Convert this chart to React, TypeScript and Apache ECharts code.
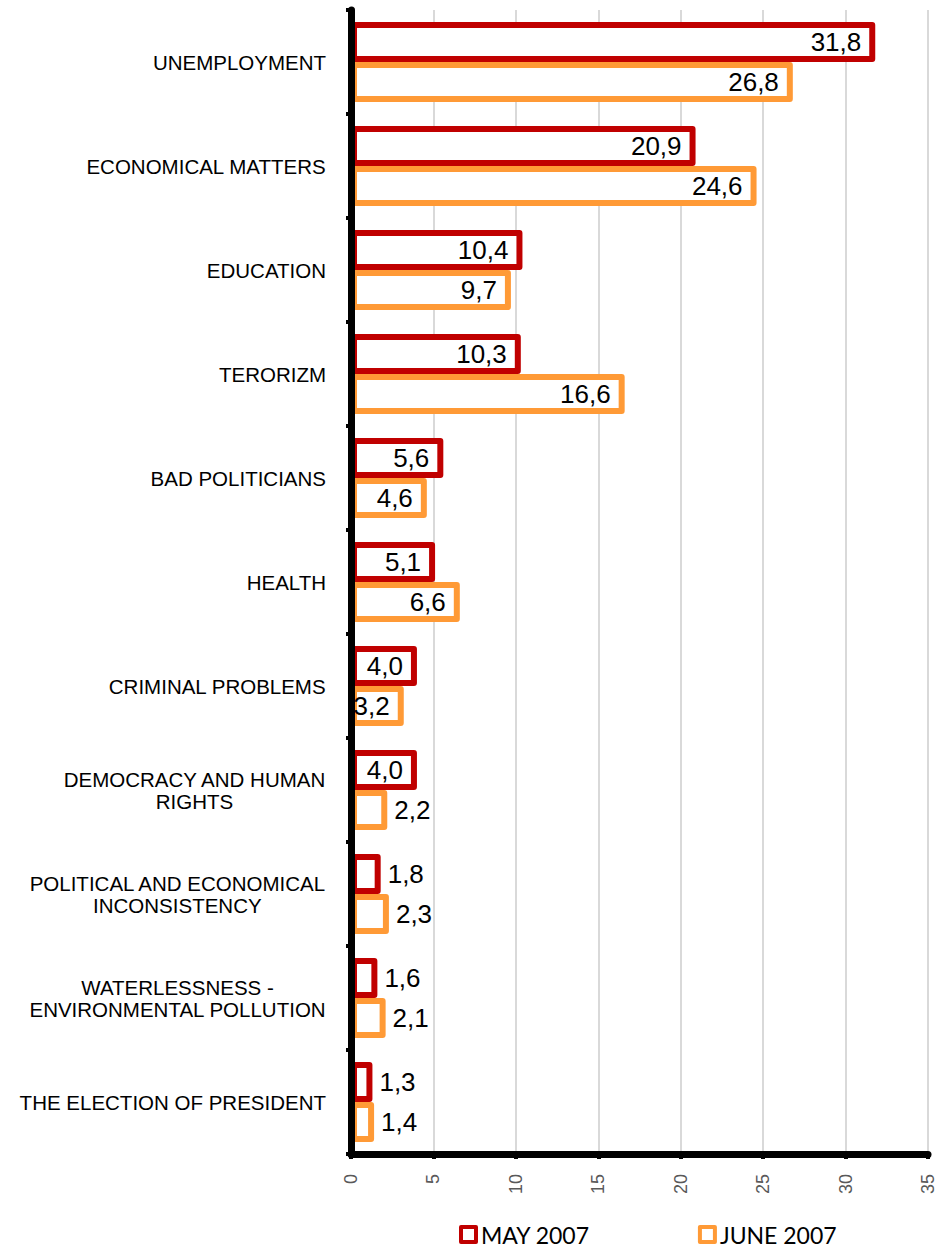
import React, { useEffect, useRef } from "react";
import * as echarts from "echarts";

const categories = [
  "UNEMPLOYMENT",
  "ECONOMICAL MATTERS",
  "EDUCATION",
  "TERORIZM",
  "BAD POLITICIANS",
  "HEALTH",
  "CRIMINAL PROBLEMS",
  "DEMOCRACY AND HUMAN\nRIGHTS",
  "POLITICAL AND ECONOMICAL\nINCONSISTENCY",
  "WATERLESSNESS -\nENVIRONMENTAL POLLUTION",
  "THE ELECTION OF PRESIDENT",
];
const may2007 = [31.8, 20.9, 10.4, 10.3, 5.6, 5.1, 4.0, 4.0, 1.8, 1.6, 1.3];
const june2007 = [26.8, 24.6, 9.7, 16.6, 4.6, 6.6, 3.2, 2.2, 2.3, 2.1, 1.4];
const seriesNames = ["MAY 2007", "JUNE 2007"];
const xTicks = { min: 0, max: 35, interval: 5 };

const fmt = (v: number) => v.toFixed(1).replace(".", ",");

const labelFor = (v: number) =>
  v >= 3
    ? { position: "insideRight", distance: 14 }
    : { position: "right", distance: 7 };

export default function App() {
  const ref = useRef<HTMLDivElement>(null);
  useEffect(() => {
    if (!ref.current) return;
    const chart = echarts.init(ref.current, undefined, { renderer: "svg" });
    const mkSeries = (name: string, values: number[], color: string, z: number) => ({
      name,
      type: "bar",
      z,
      barWidth: 40,
      barGap: "0%",
      itemStyle: {
        color: "#ffffff",
        borderColor: color,
        borderWidth: 6,
        borderJoin: "round",
      },
      label: {
        show: true,
        color: "#000",
        fontSize: 26,
        fontFamily: "Liberation Sans, Arial, sans-serif",
        formatter: (p: any) => fmt(p.value),
      },
      data: values.map((v) => ({ value: v, label: labelFor(v) })),
    });
    chart.setOption({
      animation: false,
      backgroundColor: "#ffffff",
      grid: { left: 351, right: 14, top: 10, bottom: 96, containLabel: false },
      legend: {
        data: seriesNames,
        left: 459,
        top: 1223,
        padding: 0,
        itemWidth: 15,
        itemHeight: 15,
        itemGap: 108,
        icon: "rect",
        itemStyle: { borderWidth: 4 },
        textStyle: { fontFamily: "Lato", fontSize: 23, color: "#000" },
      },
      xAxis: {
        type: "value",
        min: xTicks.min,
        max: xTicks.max,
        interval: xTicks.interval,
        axisLine: { show: true, lineStyle: { color: "#000", width: 7 } },
        axisTick: { show: true, length: 5, lineStyle: { color: "#000", width: 4 } },
        axisLabel: {
          rotate: 90,
          margin: 20,
          color: "#595959",
          fontSize: 18,
          fontFamily: "Liberation Sans, Arial, sans-serif",
        },
        splitLine: { show: true, lineStyle: { color: "#D9D9D9", width: 2 } },
      },
      yAxis: {
        type: "category",
        inverse: true,
        data: categories,
        z: 5,
        axisLine: { show: true, lineStyle: { color: "#000", width: 7 } },
        axisTick: { show: true, length: 5, lineStyle: { color: "#000", width: 4 } },
        axisLabel: {
          margin: 25,
          formatter: (v: string) =>
            v
              .split("\n")
              .map((l) => `{a|${l}}`)
              .join("\n"),
          rich: {
            a: {
              align: "center",
              fontSize: 20.5,
              lineHeight: 22,
              color: "#000",
              fontFamily: "Liberation Sans, Arial, sans-serif",
            },
          },
        },
        splitLine: { show: false },
      },
      series: [
        mkSeries(seriesNames[0], may2007, "#C00000", 3),
        mkSeries(seriesNames[1], june2007, "#FF9A36", 2),
      ],
    });
    return () => chart.dispose();
  }, []);
  return (
    <div
      ref={ref}
      style={{ position: "absolute", left: 0, top: 0, width: 942, height: 1250 }}
    />
  );
}
